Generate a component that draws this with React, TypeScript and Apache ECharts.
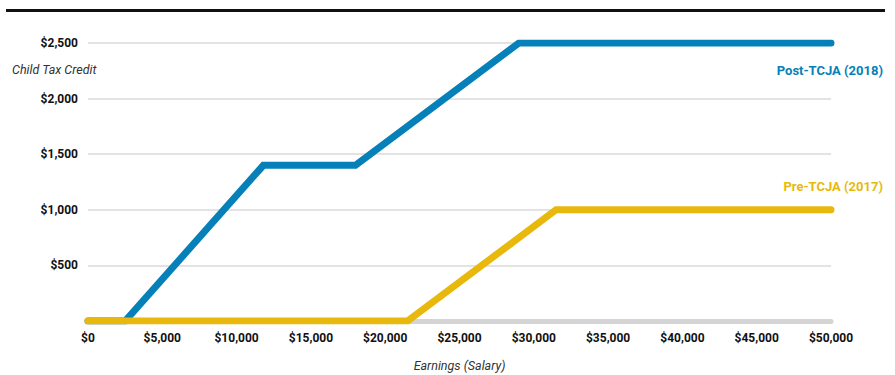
import React, { useEffect, useRef } from "react";
import * as echarts from "echarts";

const postEarnings = [0, 2500, 11800, 18000, 29000, 50000];
const postCredit = [0, 0, 1400, 1400, 2500, 2500];
const preEarnings = [0, 21500, 31500, 50000];
const preCredit = [0, 0, 1000, 1000];
const postName = "Post-TCJA (2018)";
const preName = "Pre-TCJA (2017)";
const yAxisTitle = "Child Tax Credit";
const xAxisTitle = "Earnings (Salary)";

const BLUE = "#0580b8";
const YELLOW = "#e8b90c";

const money = (v: number) => "$" + v.toLocaleString("en-US");

export default function App() {
  const ref = useRef<HTMLDivElement>(null);
  useEffect(() => {
    if (!ref.current) return;
    const chart = echarts.init(ref.current, undefined, { renderer: "svg" });
    const font = "Roboto, 'Noto Sans', sans-serif";
    chart.setOption({
      animation: false,
      backgroundColor: "#ffffff",
      textStyle: { fontFamily: font },
      grid: { left: 88, right: 64, top: 43, bottom: 54, containLabel: false, outerBoundsMode: "none" },
      xAxis: {
        type: "value",
        min: 0,
        max: 50000,
        interval: 5000,
        axisLine: { show: true, onZero: true, lineStyle: { color: "#d4d4d4", width: 5 } },
        axisTick: { show: false },
        splitLine: { show: false },
        axisLabel: {
          formatter: (v: number) => money(v),
          color: "#111",
          fontWeight: "bold",
          fontSize: 12,
          margin: 11,
          fontFamily: font,
        },
        name: xAxisTitle,
        nameLocation: "middle",
        nameGap: 38,
        nameTextStyle: { fontStyle: "italic", color: "#333", fontSize: 12.5, fontFamily: font },
      },
      yAxis: {
        type: "value",
        min: 0,
        max: 2500,
        interval: 500,
        axisLine: { show: false },
        axisTick: { show: false },
        splitLine: { show: true, lineStyle: { color: "#dadada", width: 1.5 } },
        axisLabel: {
          formatter: (v: number) => (v === 0 ? "" : money(v)),
          color: "#111",
          fontWeight: "bold",
          fontSize: 12,
          margin: 10,
          fontFamily: font,
        },
      },
      graphic: [
        {
          type: "rect",
          shape: { x: 6, y: 9, width: 879, height: 3 },
          style: { fill: "#111" },
        },
        {
          type: "text",
          x: 12,
          y: 63,
          style: {
            text: yAxisTitle,
            fontStyle: "italic",
            fontSize: 12.5,
            fill: "#333",
            fontFamily: font,
          },
        },
      ],
      series: [
        {
          type: "line",
          name: postName,
          data: postEarnings.map((x, i) => [x, postCredit[i]]),
          showSymbol: false,
          symbol: "none",
          lineStyle: { color: BLUE, width: 7, cap: "round", join: "miter" },
          z: 2,
          endLabel: {
            show: true,
            formatter: postName,
            color: BLUE,
            fontWeight: "bold",
            fontSize: 13,
            fontFamily: font,
            align: "right",
            verticalAlign: "middle",
            offset: [44, 27],
          },
        },
        {
          type: "line",
          name: preName,
          data: preEarnings.map((x, i) => [x, preCredit[i]]),
          showSymbol: false,
          symbol: "none",
          lineStyle: { color: YELLOW, width: 7, cap: "round", join: "miter" },
          z: 3,
          endLabel: {
            show: true,
            formatter: preName,
            color: YELLOW,
            fontWeight: "bold",
            fontSize: 13,
            fontFamily: font,
            align: "right",
            verticalAlign: "middle",
            offset: [44, -23],
          },
        },
      ],
    });
    return () => chart.dispose();
  }, []);
  return <div ref={ref} style={{ width: 895, height: 375, position: "absolute", left: 0, top: 0 }} />;
}
